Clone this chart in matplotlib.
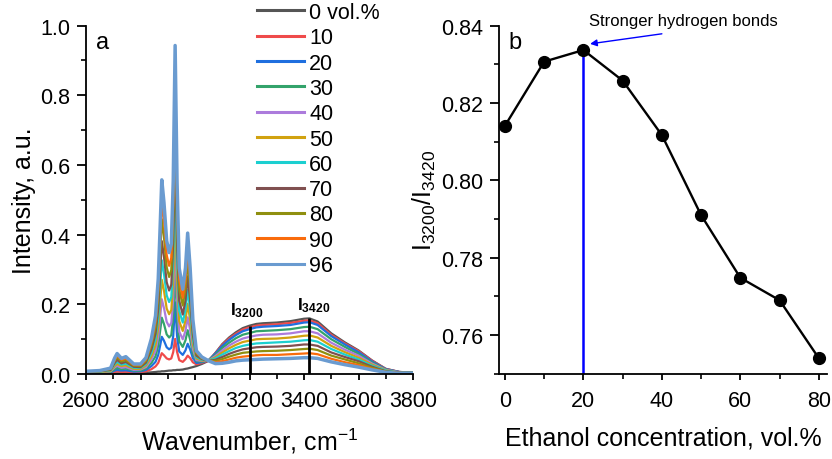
import matplotlib
matplotlib.use("Agg")
import matplotlib.pyplot as plt
from matplotlib.ticker import MultipleLocator, FormatStrFormatter
from matplotlib.lines import Line2D

plt.rcParams['font.family'] = ['Liberation Sans', 'DejaVu Sans']
plt.rcParams['mathtext.fontset'] = 'custom'
plt.rcParams['mathtext.rm'] = 'Liberation Sans'
plt.rcParams['mathtext.it'] = 'Liberation Sans:italic'
plt.rcParams['mathtext.bf'] = 'Liberation Sans:bold'

# ---------------- data: panel a (spectra) ----------------
wavenumber = [2600, 2650, 2690, 2705, 2714, 2730, 2746, 2775, 2800, 2820,
              2840, 2855, 2865, 2872, 2878, 2886, 2896, 2905, 2913, 2920,
              2927, 2934, 2942, 2955, 2965, 2973, 2982, 2992, 3005, 3025,
              3050, 3075, 3100, 3125, 3150, 3175, 3200, 3225, 3250, 3300,
              3350, 3400, 3420, 3450, 3500, 3550, 3600, 3650, 3700, 3750, 3800]

spec_0 = [0.004, 0.002, 0.001, 0.001, 0.001, 0.001, 0.001, 0.001, 0.002, 0.003,
          0.004, 0.005, 0.006, 0.006, 0.007, 0.007, 0.008, 0.009, 0.009, 0.010,
          0.010, 0.011, 0.011, 0.012, 0.014, 0.015, 0.017, 0.019, 0.022, 0.028,
          0.037, 0.060, 0.085, 0.104, 0.119, 0.131, 0.138, 0.143, 0.145, 0.147,
          0.151, 0.158, 0.159, 0.150, 0.116, 0.090, 0.067, 0.038, 0.014, 0.005, 0.003]
spec_10 = [0.004, 0.003, 0.002, 0.005, 0.007, 0.005, 0.006, 0.004, 0.005, 0.007,
           0.013, 0.021, 0.031, 0.046, 0.059, 0.053, 0.044, 0.041, 0.044, 0.062,
           0.100, 0.063, 0.039, 0.034, 0.042, 0.052, 0.045, 0.033, 0.027, 0.031,
           0.038, 0.059, 0.083, 0.101, 0.115, 0.127, 0.133, 0.138, 0.140, 0.142,
           0.146, 0.152, 0.153, 0.145, 0.112, 0.087, 0.065, 0.037, 0.014, 0.005, 0.003]
spec_20 = [0.005, 0.003, 0.004, 0.009, 0.011, 0.009, 0.010, 0.006, 0.007, 0.011,
           0.022, 0.034, 0.054, 0.081, 0.106, 0.095, 0.076, 0.070, 0.075, 0.108,
           0.205, 0.109, 0.064, 0.054, 0.067, 0.086, 0.070, 0.045, 0.031, 0.033,
           0.039, 0.058, 0.080, 0.097, 0.111, 0.122, 0.128, 0.133, 0.135, 0.137,
           0.140, 0.147, 0.148, 0.140, 0.108, 0.084, 0.062, 0.035, 0.013, 0.005, 0.003]
spec_30 = [0.005, 0.004, 0.005, 0.013, 0.017, 0.013, 0.015, 0.009, 0.009, 0.015,
           0.031, 0.050, 0.081, 0.123, 0.161, 0.143, 0.113, 0.104, 0.111, 0.163,
           0.300, 0.163, 0.093, 0.077, 0.096, 0.125, 0.098, 0.058, 0.036, 0.035,
           0.039, 0.054, 0.074, 0.089, 0.102, 0.112, 0.117, 0.122, 0.123, 0.125,
           0.128, 0.134, 0.135, 0.128, 0.099, 0.077, 0.057, 0.032, 0.012, 0.004, 0.003]
spec_40 = [0.005, 0.005, 0.007, 0.018, 0.023, 0.017, 0.019, 0.011, 0.012, 0.019,
           0.041, 0.066, 0.106, 0.162, 0.214, 0.189, 0.149, 0.136, 0.146, 0.214,
           0.390, 0.215, 0.121, 0.099, 0.123, 0.162, 0.126, 0.071, 0.039, 0.037,
           0.038, 0.051, 0.067, 0.081, 0.092, 0.101, 0.106, 0.110, 0.112, 0.113,
           0.116, 0.122, 0.122, 0.116, 0.089, 0.069, 0.052, 0.029, 0.011, 0.004, 0.002]
spec_50 = [0.006, 0.005, 0.008, 0.022, 0.028, 0.022, 0.024, 0.014, 0.014, 0.024,
           0.050, 0.082, 0.133, 0.204, 0.270, 0.239, 0.187, 0.171, 0.183, 0.269,
           0.480, 0.270, 0.151, 0.123, 0.153, 0.201, 0.155, 0.085, 0.044, 0.038,
           0.038, 0.047, 0.061, 0.073, 0.083, 0.091, 0.095, 0.099, 0.100, 0.101,
           0.104, 0.109, 0.110, 0.104, 0.080, 0.062, 0.046, 0.026, 0.010, 0.003, 0.002]
spec_60 = [0.006, 0.006, 0.010, 0.027, 0.034, 0.026, 0.029, 0.017, 0.017, 0.028,
           0.060, 0.099, 0.160, 0.247, 0.326, 0.288, 0.225, 0.206, 0.220, 0.325,
           0.570, 0.326, 0.181, 0.147, 0.183, 0.241, 0.184, 0.099, 0.048, 0.040,
           0.038, 0.044, 0.055, 0.065, 0.074, 0.080, 0.084, 0.087, 0.088, 0.090,
           0.092, 0.096, 0.097, 0.092, 0.071, 0.055, 0.041, 0.023, 0.009, 0.003, 0.002]
spec_70 = [0.006, 0.007, 0.011, 0.031, 0.040, 0.030, 0.034, 0.020, 0.019, 0.032,
           0.070, 0.115, 0.187, 0.289, 0.381, 0.337, 0.263, 0.239, 0.256, 0.379,
           0.660, 0.380, 0.210, 0.170, 0.211, 0.280, 0.213, 0.112, 0.052, 0.042,
           0.037, 0.040, 0.048, 0.057, 0.064, 0.070, 0.073, 0.076, 0.077, 0.078,
           0.080, 0.084, 0.084, 0.080, 0.061, 0.048, 0.036, 0.020, 0.007, 0.003, 0.002]
spec_80 = [0.007, 0.007, 0.013, 0.036, 0.047, 0.035, 0.039, 0.023, 0.022, 0.037,
           0.081, 0.133, 0.217, 0.337, 0.444, 0.393, 0.306, 0.278, 0.298, 0.442,
           0.760, 0.442, 0.243, 0.196, 0.245, 0.325, 0.246, 0.128, 0.058, 0.044,
           0.037, 0.037, 0.042, 0.049, 0.055, 0.060, 0.062, 0.064, 0.065, 0.066,
           0.068, 0.071, 0.072, 0.068, 0.052, 0.041, 0.030, 0.017, 0.006, 0.002, 0.002]
spec_90 = [0.007, 0.008, 0.015, 0.040, 0.052, 0.040, 0.044, 0.025, 0.025, 0.041,
           0.090, 0.149, 0.243, 0.376, 0.497, 0.439, 0.341, 0.310, 0.333, 0.493,
           0.850, 0.494, 0.271, 0.218, 0.272, 0.362, 0.273, 0.141, 0.062, 0.046,
           0.037, 0.033, 0.036, 0.041, 0.046, 0.049, 0.051, 0.053, 0.054, 0.054,
           0.056, 0.058, 0.059, 0.056, 0.043, 0.033, 0.025, 0.014, 0.005, 0.002, 0.001]
spec_96 = [0.007, 0.009, 0.016, 0.045, 0.058, 0.044, 0.049, 0.028, 0.028, 0.046,
           0.101, 0.166, 0.272, 0.422, 0.557, 0.492, 0.382, 0.348, 0.373, 0.553,
           0.943, 0.553, 0.303, 0.243, 0.304, 0.404, 0.305, 0.156, 0.066, 0.048,
           0.037, 0.029, 0.030, 0.033, 0.037, 0.039, 0.040, 0.041, 0.042, 0.043,
           0.044, 0.046, 0.046, 0.044, 0.034, 0.026, 0.019, 0.011, 0.004, 0.001, 0.001]

spectra = [spec_0, spec_10, spec_20, spec_30, spec_40, spec_50,
           spec_60, spec_70, spec_80, spec_90, spec_96]
legend_labels = ['0 vol.%', '10', '20', '30', '40', '50', '60', '70', '80', '90', '96']
spec_colors = ['#555555', '#EF4B4B', '#1F6FDF', '#33A36B', '#AC7BDC', '#D1A210',
               '#1BCFD0', '#805050', '#8F8F0F', '#F96B0C', '#6A9BD0']

marker_wn = [3200, 3420]
marker_top = [0.138, 0.160]
marker_labels = [r'$\mathbf{I_{3200}}$', r'$\mathbf{I_{3420}}$']

# ---------------- data: panel b (ratio) ----------------
ethanol_conc = [0, 10, 20, 30, 40, 50, 60, 70, 80]
ratio = [0.8141, 0.8307, 0.8337, 0.8258, 0.8117, 0.7910, 0.7748, 0.7690, 0.7540]
max_conc = 20

# ---------------- figure ----------------
fig = plt.figure(figsize=(8.32, 4.6), dpi=100)
ax1 = fig.add_axes([0.1034, 0.1854, 0.3930, 0.7566])
ax2 = fig.add_axes([0.5998, 0.1854, 0.3938, 0.7566])

tick_fs = 15.5
label_fs = 18

for ax in (ax1, ax2):
    ax.spines['top'].set_visible(False)
    ax.spines['right'].set_visible(False)
    for s in ('left', 'bottom'):
        ax.spines[s].set_linewidth(1.3)
    ax.tick_params(axis='y', which='major', direction='out', length=6.5, width=1.3,
                   labelsize=tick_fs, pad=5)
    ax.tick_params(axis='y', which='minor', direction='out', length=3.5, width=1.2)
    ax.tick_params(axis='x', which='major', direction='out', length=4.5, width=1.3,
                   labelsize=tick_fs, pad=7.5)
    ax.tick_params(axis='x', which='minor', direction='out', length=3.5, width=1.2)

# panel a
for y, c, lab in zip(spectra, spec_colors, legend_labels):
    lw = 2.5 if lab == '96' else 1.6
    ax1.plot(wavenumber, y, color=c, lw=lw, solid_joinstyle='round')
ax1.vlines(marker_wn, 0, marker_top, colors='black', lw=2.0, zorder=5)
ax1.text(3191, 0.17, marker_labels[0], ha='center', va='baseline', fontsize=12.5)
ax1.text(3436, 0.185, marker_labels[1], ha='center', va='baseline', fontsize=12.5)

ax1.set_xlim(2600, 3800)
ax1.set_ylim(0, 1.0)
ax1.xaxis.set_major_locator(MultipleLocator(200))
ax1.xaxis.set_minor_locator(MultipleLocator(100))
ax1.yaxis.set_major_locator(MultipleLocator(0.2))
ax1.yaxis.set_minor_locator(MultipleLocator(0.1))
ax1.yaxis.set_major_formatter(FormatStrFormatter('%.1f'))
ax1.set_xlabel(r'Wavenumber, cm$^{\mathregular{-1}}$', fontsize=label_fs, labelpad=10)
ax1.set_ylabel('Intensity, a.u.', fontsize=label_fs, labelpad=2.5)
ax1.text(0.03, 0.985, 'a', transform=ax1.transAxes, fontsize=17, va='top', ha='left')

leg_handles = [Line2D([], [], color=c, lw=2.2) for c in spec_colors]
fig.legend(leg_handles, legend_labels, loc='upper left',
           bbox_to_anchor=(257 / 832, 1 - 3 / 460), frameon=False,
           fontsize=15.5, borderpad=0, borderaxespad=0, handlelength=2.18,
           handletextpad=0.25, labelspacing=0.2)

# panel b
ax2.vlines([max_conc], 0.75, [ratio[ethanol_conc.index(max_conc)]],
           colors='#0000FF', lw=1.8, zorder=2)
ax2.plot(ethanol_conc, ratio, color='black', lw=1.7, marker='o',
         markersize=8.5, zorder=3, clip_on=False)
ax2.set_xlim(-1.5, 82)
ax2.set_ylim(0.75, 0.84)
ax2.xaxis.set_major_locator(MultipleLocator(20))
ax2.xaxis.set_minor_locator(MultipleLocator(10))
ax2.yaxis.set_major_locator(MultipleLocator(0.02))
ax2.yaxis.set_minor_locator(MultipleLocator(0.01))
ax2.yaxis.set_major_formatter(FormatStrFormatter('%.2f'))
ax2.set_xlabel('Ethanol concentration, vol.%', fontsize=label_fs, labelpad=10)
ax2.set_ylabel(r'$\mathregular{I_{3200}/I_{3420}}$', fontsize=label_fs, labelpad=2)
ax2.text(0.03, 0.985, 'b', transform=ax2.transAxes, fontsize=17, va='top', ha='left')

ax2.annotate('', xy=(21.7, 0.8353), xytext=(40.0, 0.8379),
             arrowprops=dict(arrowstyle='-|>', color='#0000FF', lw=1.0,
                             mutation_scale=10, shrinkA=0, shrinkB=0),
             annotation_clip=False)
ax2.text(45.5, 0.8413, 'Stronger hydrogen bonds', ha='center', va='center',
         fontsize=12, clip_on=False)

fig.savefig('out.png', dpi=100)
